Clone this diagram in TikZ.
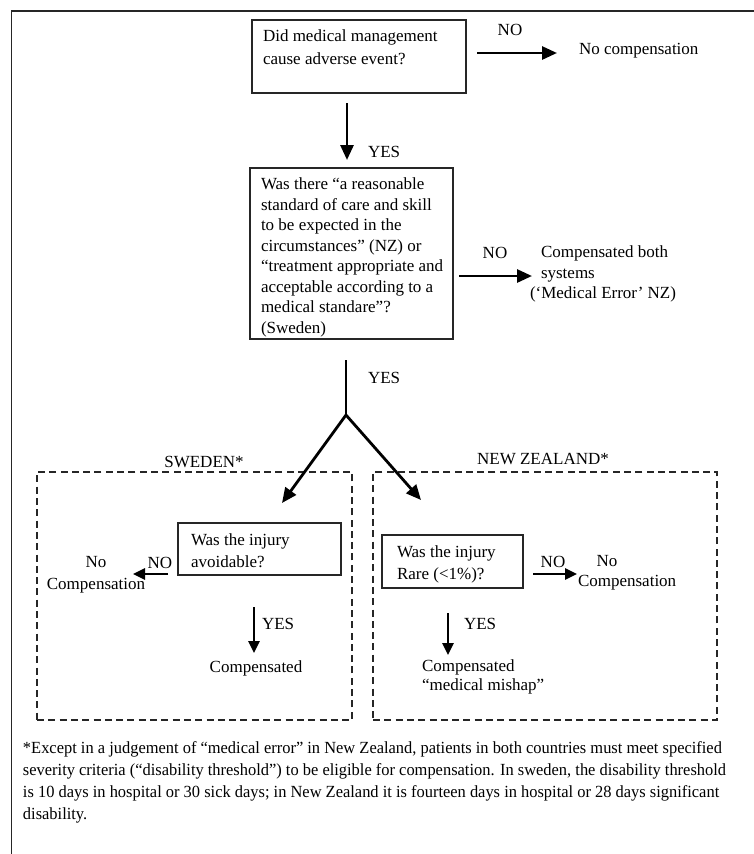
\documentclass[tikz,border=0pt]{standalone}
\usepackage{fontspec}
\setmainfont{Liberation Serif}
\usetikzlibrary{arrows.meta,calc}
\begin{document}
\begin{tikzpicture}[x=1pt,y=-1pt,
  txt/.style={inner sep=0pt, outer sep=0pt, font=\fontsize{17}{20.5}\selectfont},
  qbox/.style={draw=black!85, line width=1.6pt, inner sep=0pt, outer sep=0pt, anchor=north west},
  dbox/.style={draw=black!85, line width=1.4pt, dash pattern=on 7pt off 4.3pt, inner sep=0pt, outer sep=0pt, anchor=north west},
  arr/.style={line width=2.8pt, -{Triangle[length=15pt,width=13pt]}},
  sarr/.style={line width=2.6pt, -{Triangle[length=12pt,width=11pt]}},
  bar/.style={line width=2.8pt},
  frame/.style={line width=1.6pt, draw=black!85}]
\useasboundingbox (0,0) rectangle (753,854);
\draw[frame] (11.5,856) -- (11.5,11) -- (755,11);

% top question
\node[qbox, minimum width=214pt, minimum height=73pt] (b1) at (252,20) {};
\node[txt, anchor=north west, align=left, font=\fontsize{17}{23}\selectfont] (t1) at (263,29.7) {Did medical management\\cause adverse event?};
\node[txt, anchor=base] (no1) at (510,35.6) {NO};
\node[txt, anchor=base west] (nc) at (579,54.5) {No compensation};
\draw[arr] ($(b1.north east)+(11,33)$) -- ($(nc.base west)+(-22,-1.5)$);

% second question
\node[qbox, minimum width=203pt, minimum height=171pt] (b2) at (250,168) {};
\node[txt, anchor=north west, align=left] (t2) at (261,177.7) {Was there “a reasonable\\standard of care and skill\\to be expected in the\\circumstances” (NZ) or\\“treatment appropriate and\\acceptable according to a\\medical standare”?\\(Sweden)};
\draw[arr] ($(b1.south)+(-12,10)$) -- ($(b2.north)+(-4.5,-8)$);
\node[txt, anchor=base west] (yes1) at (368,157) {YES};

\node[txt, anchor=base] (no2) at (495,258.6) {NO};
\node[txt, anchor=north west, align=left] (cb) at (541,245.7) {Compensated both\\systems\\\hspace*{-11pt}(‘Medical Error’ NZ)};
\draw[arr] ($(b2.east)+(6,22.5)$) -- ($(cb.north west)+(-9,30.3)$);

% split
\coordinate (j) at (346,415);
\draw[bar] ($(b2.south)+(-5.5,21)$) -- (j);
\node[txt, anchor=base west] (yes2) at (368,383) {YES};

% country boxes
\node[dbox, minimum width=315pt, minimum height=248pt] (sw) at (37,472) {};
\node[dbox, minimum width=344pt, minimum height=248pt] (nz) at (373,472) {};
\node[txt, anchor=base] (swl) at (204,467.5) {SWEDEN*};
\node[txt, anchor=base] (nzl) at (543,464) {NEW ZEALAND*};
\draw[arr] (j) -- ($(sw.north east)+(-70,31)$);
\draw[arr] (j) -- ($(nz.north west)+(48,28)$);

% Sweden
\node[qbox, minimum width=163pt, minimum height=52pt] (swq) at (178,523) {};
\node[txt, anchor=north west, align=left, font=\fontsize{17}{22}\selectfont] (swqt) at (191,533.7) {Was the injury\\avoidable?};
\node[txt, anchor=base] (swno) at (160,568.6) {NO};
\node[txt, anchor=north, align=center, font=\fontsize{17}{21.5}\selectfont] (swnc) at (96,556.8) {No\\Compensation};
\coordinate (swnoend) at (133,574);
\draw[sarr] ($(swq.south west)+(-10,-1)$) -- (swnoend);
\node[txt, anchor=base] (swc) at (256,672) {Compensated};
\draw[sarr] ($(swq.south)+(-5.5,32)$) -- ($(swc.base)+(-2,-19)$);
\node[txt, anchor=base west] (swyes) at (262,629) {YES};

% New Zealand
\node[qbox, minimum width=141pt, minimum height=53pt] (nzq) at (382,535) {};
\node[txt, anchor=north west, align=left, font=\fontsize{17}{22}\selectfont] (nzqt) at (397,545.7) {Was the injury\\Rare (<1\%)?};
\node[txt, anchor=base] (nzno) at (553,567.6) {NO};
\node[txt, anchor=north west, align=left, font=\fontsize{17}{20}\selectfont] (nznc) at (578,555.8) {\hspace*{18.6pt}No\\Compensation};
\draw[sarr] ($(nzq.east)+(10,12.5)$) -- ($(nznc.north west)+(-1,18.2)$);
\node[txt, anchor=north west, align=left, font=\fontsize{17}{19}\selectfont] (nzc) at (422,659.2) {Compensated\\“medical mishap”};
\draw[sarr] ($(nzq.south)+(-4.5,25)$) -- ($(nzc.north west)+(26,-4.2)$);
\node[txt, anchor=base west] (nzyes) at (464,629.6) {YES};

% footnote
\node[txt, anchor=north west, align=left, font=\fontsize{17}{22}\selectfont] (fn) at (23,741.5) {%
\scalebox{0.967}[1]{*Except in a judgement of “medical error” in New Zealand, patients in both countries must meet specified}\\
\scalebox{0.967}[1]{severity criteria (“disability threshold”) to be eligible for compensation. In sweden, the disability threshold}\\
\scalebox{0.967}[1]{is 10 days in hospital or 30 sick days; in New Zealand it is fourteen days in hospital or 28 days significant}\\
\scalebox{0.967}[1]{disability.}};
\end{tikzpicture}
\end{document}
